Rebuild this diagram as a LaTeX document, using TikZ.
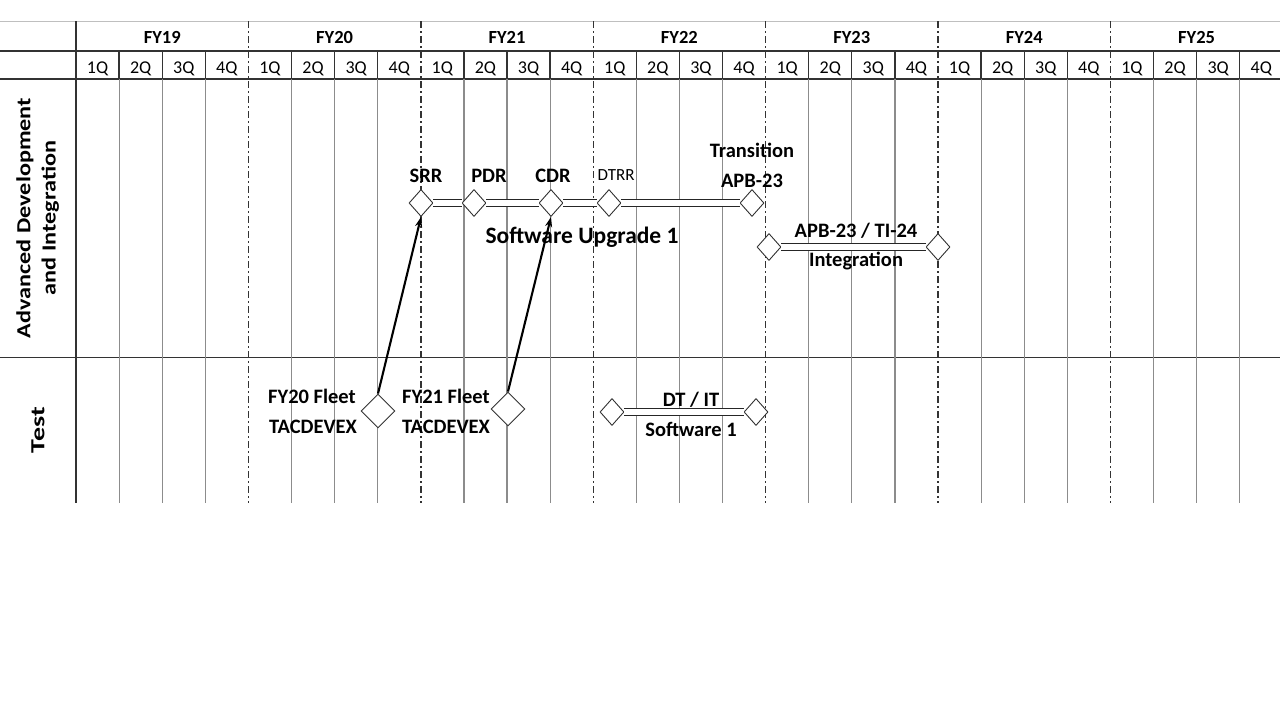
\documentclass[tikz,border=0pt]{standalone}
\usepackage{fontspec}
\setmainfont{Carlito}
\usetikzlibrary{shapes.geometric,arrows.meta}
\begin{document}
\begin{tikzpicture}[x=1pt,y=-1pt,
  msmall/.style={diamond,draw=black!80,fill=white,line width=0.9pt,minimum width=24pt,minimum height=27pt,inner sep=0pt},
  mbig/.style={msmall,minimum width=34pt,minimum height=34pt},
  lbl/.style={font=\fontsize{20.5}{24}\selectfont\bfseries,inner sep=0pt,anchor=base},
  hdr/.style={font=\fontsize{18.5}{22}\selectfont\bfseries,inner sep=0pt,anchor=base},
  qlbl/.style={font=\fontsize{18}{22}\selectfont,inner sep=0pt,anchor=base},
  lane/.style={font=\fontsize{20}{25}\selectfont\bfseries,inner sep=0pt,rotate=90},
  bar/.style={draw=black!85,line width=1.3pt,double=white,double distance=5.5pt},
  link/.style={draw=black,line width=2.1pt,-{Stealth[length=10pt,width=7pt]}},
  quart/.style={draw=black!45,line width=1.2pt},
  yearl/.style={draw=black!80,line width=1.4pt,dash pattern=on 7pt off 3pt on 2pt off 3pt},
  frame/.style={draw=black!80,line width=1.6pt}]
\useasboundingbox (0,0) rectangle (1280,720);
\fill[white] (0,0) rectangle (1280,720);
% grid
\draw[draw=black!25,line width=1pt] (0,21) -- (1280,21);
\draw[frame] (0,51) -- (1280,51);
\draw[frame] (0,79) -- (1280,79);
\draw[frame] (0,357.5) -- (1280,357.5);
\draw[frame] (76,21) -- (76,503);
\foreach \k in {1,...,27}{
  \pgfmathsetmacro\xx{76+43.1*\k}
  \pgfmathtruncatemacro\r{mod(\k,4)}
  \ifnum\r=0
    \draw[yearl] (\xx,21) -- (\xx,503);
  \else
    \draw[frame,line width=1.3pt] (\xx,51) -- (\xx,79);
    \draw[quart] (\xx,79) -- (\xx,503);
  \fi
}
% header labels
\foreach \y [count=\i from 0] in {19,...,25}{
  \node[hdr] (fy\y) at ({76+172.4*\i+86.2},43) {FY\y};
}
\foreach \k in {0,...,27}{
  \pgfmathtruncatemacro\q{mod(\k,4)+1}
  \node[qlbl] (q\k) at ({76+43.1*\k+21.55},73) {\q Q};
}
% lane labels
\node[lane] (laneA) at (38,218) {\scalebox{1.21}[1]{\begin{tabular}{@{}c@{}}Advanced Development\\and Integration\end{tabular}}};
\node[lane] (laneB) at (38,430) {\scalebox{1.4}[1]{Test}};
% milestones
\node[msmall] (srr) at (421,203) {};
\node[msmall] (pdr) at (474,203) {};
\node[msmall] (cdr) at (551,203) {};
\node[msmall] (dtrr) at (609,203) {};
\node[msmall] (trans) at (752,203) {};
\node[msmall] (apbA) at (769,247) {};
\node[msmall] (apbB) at (938,247) {};
\node[mbig] (fy20d) at (378,411) {};
\node[mbig] (fy21d) at (508,409) {};
\node[msmall] (dtA) at (612,412) {};
\node[msmall] (dtB) at (756,412) {};
% bars
\draw[bar] (srr) -- (pdr);
\draw[bar] (pdr) -- (cdr);
\draw[bar] (cdr) -- (dtrr);
\draw[bar] (dtrr) -- (trans);
\draw[bar] (apbA) -- (apbB);
\draw[bar] (dtA) -- (dtB);
% labels
\node[lbl] (tsrr) at (426,182) {SRR};
\node[lbl] (tpdr) at (489,182) {PDR};
\node[lbl] (tcdr) at (553,182) {CDR};
\node[lbl,font=\fontsize{17}{20}\selectfont] (tdtrr) at (616,180) {DTRR};
\node[lbl] (ttr1) at (752,157) {Transition};
\node[lbl] (ttr2) at (752,187) {APB-23};
\node[lbl,font=\fontsize{23.5}{28}\selectfont\bfseries] (tsw) at (582,243) {Software Upgrade 1};
\node[lbl] (tapb1) at (856,237) {APB-23 / TI-24};
\node[lbl] (tapb2) at (856,266) {Integration};
\node[lbl] (tf20a) at (312,403) {FY20 Fleet};
\node[lbl] (tf20b) at (313,433) {TACDEVEX};
\node[lbl] (tf21a) at (446,403) {FY21 Fleet};
\node[lbl] (tf21b) at (446,433) {TACDEVEX};
\node[lbl] (tdt1) at (691,406) {DT / IT};
\node[lbl] (tdt2) at (691,436) {Software 1};
% links
\draw[link] (fy20d.north) -- (srr.south);
\draw[link] (fy21d.north) -- (cdr.south);
\end{tikzpicture}
\end{document}
